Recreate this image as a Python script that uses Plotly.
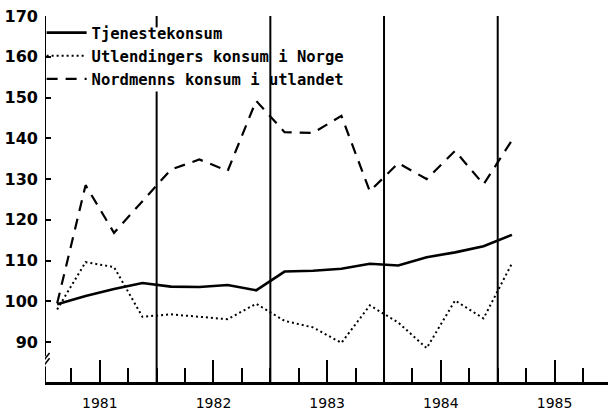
import plotly.graph_objects as go

# Quarterly data 1981Q1 - 1985Q1, plotted at quarter midpoints
quarters = ["1981K1","1981K2","1981K3","1981K4","1982K1","1982K2","1982K3","1982K4",
            "1983K1","1983K2","1983K3","1983K4","1984K1","1984K2","1984K3","1984K4","1985K1"]
tjeneste = [99.3, 101.3, 103.0, 104.5, 103.6, 103.5, 104.0, 102.7,
            107.3, 107.5, 108.0, 109.2, 108.8, 110.8, 112.0, 113.5, 116.3]
utlendinger = [98.0, 109.6, 108.4, 96.2, 96.8, 96.2, 95.6, 99.4,
               95.2, 93.6, 89.8, 99.0, 94.8, 88.5, 100.2, 95.8, 109.3]
nordmenn = [99.5, 128.5, 116.8, 124.5, 132.3, 134.8, 132.0, 149.2,
            141.5, 141.3, 145.5, 127.0, 133.9, 130.0, 136.9, 128.7, 139.5]

year_labels = ["1981", "1982", "1983", "1984", "1985"]
y_ticks = [90, 100, 110, 120, 130, 140, 150, 160, 170]


def qpos(q):
    y = int(q[:4]); k = int(q[-1])
    return y + (k - 1) * 0.25 + 0.125


x = [qpos(q) for q in quarters]
years = [int(s) for s in year_labels]

fig = go.Figure()
fig.add_trace(go.Scatter(x=x, y=tjeneste, mode="lines", name="Tjenestekonsum",
                         line=dict(color="black", width=2.6)))
fig.add_trace(go.Scatter(x=x, y=utlendinger, mode="lines", name="Utlendingers konsum i Norge",
                         line=dict(color="black", width=2, dash="2px,3px")))
fig.add_trace(go.Scatter(x=x, y=nordmenn, mode="lines", name="Nordmenns konsum i utlandet",
                         line=dict(color="black", width=2.2, dash="11px,8px")))

x0 = years[0] + 0.018
x1 = years[0] + 4.97
ymin, ymax = 80.2, 170

shapes = []
# y axis with break
shapes.append(dict(type="line", xref="x", yref="y", x0=x0, x1=x0, y0=86.5, y1=ymax,
                   line=dict(color="black", width=2)))
shapes.append(dict(type="line", xref="x", yref="y", x0=x0, x1=x0, y0=ymin, y1=84.0,
                   line=dict(color="black", width=2)))
# break marks
for dy in (0.0, 1.3):
    shapes.append(dict(type="line", xref="x", yref="y", x0=x0 - 0.06, x1=x0 + 0.04,
                       y0=82.5 + dy, y1=86.0 + dy, line=dict(color="black", width=1.6)))
# year boundary lines
for yr in years[1:]:
    if yr == 1982:
        shapes.append(dict(type="line", xref="x", yref="y", x0=yr, x1=yr, y0=167.2, y1=ymax,
                           line=dict(color="black", width=2)))
        shapes.append(dict(type="line", xref="x", yref="y", x0=yr, x1=yr, y0=ymin, y1=151.5,
                           line=dict(color="black", width=2)))
    else:
        shapes.append(dict(type="line", xref="x", yref="y", x0=yr, x1=yr, y0=ymin, y1=ymax,
                           line=dict(color="black", width=2)))

fig.update_layout(
    width=608, height=412,
    margin=dict(l=45, r=0, t=16, b=30, autoexpand=False),
    paper_bgcolor="white", plot_bgcolor="white",
    shapes=shapes,
    showlegend=True,
    legend=dict(x=-0.006, y=1.0, xanchor="left", yanchor="top",
                bgcolor="rgba(0,0,0,0)", borderwidth=0,
                font=dict(family="DejaVu Sans Mono", size=15.5, color="black", weight="bold"),
                itemwidth=40, tracegroupgap=0),
    xaxis=dict(range=[x0, x1], showgrid=False, zeroline=False, automargin=False,
               showline=True, linecolor="black", linewidth=2.5,
               tickmode="array", tickvals=[y + 0.5 for y in years], ticktext=year_labels,
               ticks="inside", ticklen=22, tickwidth=2, tickcolor="black",
               ticklabelstandoff=6,
               minor=dict(ticks="inside", ticklen=14, tickwidth=2, tickcolor="black",
                          tick0=years[0], dtick=0.25),
               tickfont=dict(family="DejaVu Sans", size=14, color="black")),
    yaxis=dict(range=[ymin, ymax], showgrid=False, zeroline=False, showline=False,
               automargin=False,
               tickmode="array", tickvals=y_ticks, ticktext=[str(v) for v in y_ticks],
               ticks="inside", ticklen=6, tickwidth=2, tickcolor="black",
               ticklabelstandoff=6,
               tickfont=dict(family="DejaVu Sans", size=16, color="black", weight="bold")),
)

fig.write_html("out.html", config={"displayModeBar": False},
               post_script="document.body.style.margin='0';")
